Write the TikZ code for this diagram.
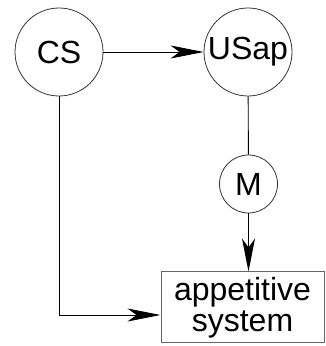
\documentclass[tikz,border=0pt]{standalone}
\usepackage{fontspec}
\setmainfont{Liberation Sans}
\usetikzlibrary{arrows.meta}
\begin{document}
\begin{tikzpicture}[x=1pt,y=1pt,
  circ/.style={circle,draw=black!80,line width=0.8pt,inner sep=0pt,font=\fontsize{32}{33}\selectfont},
  sysbox/.style={rectangle,draw=black!60,line width=1pt,inner sep=0pt,minimum width=163pt,minimum height=71pt,align=center,font=\fontsize{32}{31}\selectfont},
  conn/.style={line width=0.9pt,draw=black},
  tip/.style={-{Stealth[length=33pt,width=13pt,inset=9pt]}}
]
\useasboundingbox (0,0) rectangle (325,346);
\node[circ,minimum size=88pt] (CS) at (59,294) {CS};
\node[circ,minimum size=88pt] (USap) at (248,294) {USap};
\node[circ,minimum size=58pt] (M) at (248.5,162) {M};
\node[sysbox] (sys) at (242.5,38.5) {appetitive\\system};
\draw[conn,tip] (CS) -- (USap);
\draw[conn] (USap) -- (M);
\draw[conn,tip] (M) -- (M |- sys.north);
\draw[conn,tip] (CS.south) |- ([yshift=-7.5pt]sys.west);
\end{tikzpicture}
\end{document}
